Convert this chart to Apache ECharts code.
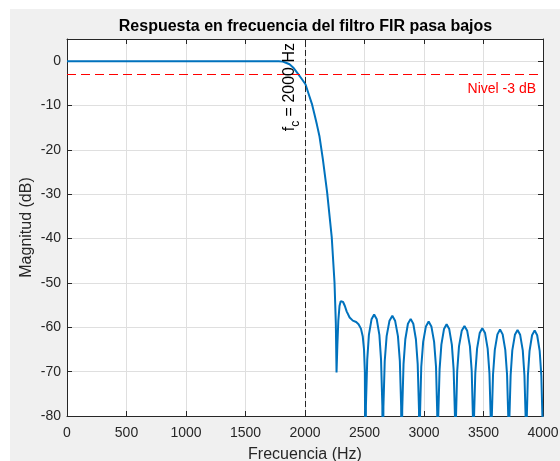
<!DOCTYPE html>
<html><head><meta charset="utf-8">
<script src="https://cdn.jsdelivr.net/npm/echarts@6/dist/echarts.min.js"></script>
<style>
html,body{margin:0;padding:0;background:#fff;}
#wrap{position:relative;width:560px;height:461px;overflow:hidden;}
#bg{position:absolute;left:10px;top:9px;right:0;bottom:0;background:#f0f0f0;}
#chart{position:absolute;left:0;top:0;width:560px;height:461px;}
</style></head><body>
<div id="wrap"><div id="bg"></div><div id="chart"></div></div>
<script>
const titleText = 'Respuesta en frecuencia del filtro FIR pasa bajos';
const xName = 'Frecuencia (Hz)';
const yName = 'Magnitud (dB)';
const xTicks = [0, 500, 1000, 1500, 2000, 2500, 3000, 3500, 4000];
const yTicks = [-80, -70, -60, -50, -40, -30, -20, -10, 0];
const yTop = 5;
const cutoffHz = 2000;
const cutoffLabel = ['f', 'c', ' = 2000 Hz'];
const levelDb = -3;
const levelLabel = 'Nivel -3 dB';

const freqHz = [
  0, 500, 1000, 1500, 1700, 1780, 1813, 1840, 1870, 1900, 1940, 1970, 2004, 2032, 2060, 2080, 2100, 2122, 2150, 2186, 2225, 2248, 2259, 2265,
  2272, 2280, 2290, 2300, 2309, 2320, 2335, 2350, 2375, 2402, 2430, 2450, 2470, 2485, 2496, 2503, 2508,
  2512, 2523, 2537, 2559, 2581, 2603, 2625, 2639, 2650, 2654,
  2659, 2670, 2686, 2710, 2734, 2757, 2781, 2797, 2808, 2813,
  2817, 2828, 2843, 2865, 2888, 2910, 2932, 2947, 2958, 2962,
  2967, 2977, 2993, 3016, 3039, 3062, 3085, 3101, 3111, 3116,
  3120, 3131, 3146, 3168, 3190, 3212, 3234, 3249, 3260, 3264,
  3269, 3279, 3294, 3317, 3340, 3363, 3386, 3401, 3411, 3416,
  3420, 3431, 3446, 3468, 3490, 3513, 3535, 3550, 3561, 3565,
  3569, 3580, 3595, 3617, 3639, 3661, 3683, 3698, 3709, 3713,
  3717, 3728, 3742, 3764, 3786, 3808, 3830, 3844, 3855, 3859,
  3863, 3873, 3887, 3908, 3930, 3951, 3972, 3986, 3996, 4000
];
const magDb = [
  0, 0, 0, 0, 0, 0, -0.1, -0.35, -0.7, -1.4, -2.8, -3.9, -5.2, -7.5, -9.8, -12, -14.3, -17, -22.1, -29.6, -39.8, -49.9, -59, -70.2,
  -64, -58.5, -55.2, -54.1, -53.9, -54.3, -55.2, -56.4, -57.8, -58.5, -58.8, -59.3, -60.3, -62, -65, -70, -100,
  -77.6, -67.3, -61.7, -58.2, -57.1, -58.2, -61.7, -67.3, -77.6, -100,
  -77.9, -67.6, -62.0, -58.5, -57.4, -58.5, -62.0, -67.6, -77.9, -100,
  -78.6, -68.3, -62.7, -59.2, -58.1, -59.2, -62.7, -68.3, -78.6, -100,
  -79.2, -68.9, -63.3, -59.8, -58.7, -59.8, -63.3, -68.9, -79.2, -100,
  -79.8, -69.5, -63.9, -60.4, -59.3, -60.4, -63.9, -69.5, -79.8, -100,
  -80.2, -69.9, -64.3, -60.8, -59.7, -60.8, -64.3, -69.9, -80.2, -100,
  -80.7, -70.4, -64.8, -61.3, -60.2, -61.3, -64.8, -70.4, -80.7, -100,
  -81.0, -70.7, -65.1, -61.6, -60.5, -61.6, -65.1, -70.7, -81.0, -100,
  -81.1, -70.8, -65.2, -61.7, -60.6, -61.7, -65.2, -70.8, -81.1, -100,
  -81.2, -70.9, -65.3, -61.8, -60.7, -61.8, -65.3, -70.9, -81.2, -100
];

const FONT = '"Liberation Sans", Arial, Helvetica, sans-serif';
const axisColor = '#262626';
const gridColor = '#dfdfdf';
const seriesData = freqHz.map((f, i) => [f, magDb[i]]);
const xMin = xTicks[0], xMax = xTicks[xTicks.length - 1], xStep = xTicks[1] - xTicks[0];
const yMin = yTicks[0], yStep = yTicks[1] - yTicks[0];

function boxAxis(pos, isX) {
  return {
    type: 'value', position: pos,
    min: isX ? xMin : yMin, max: isX ? xMax : yTop, interval: isX ? xStep : yStep,
    axisLine: { show: true, onZero: false, lineStyle: { color: axisColor, width: 1 } },
    axisTick: { show: true, inside: true, length: 5, lineStyle: { color: axisColor } },
    axisLabel: { show: false },
    splitLine: { show: false }
  };
}

const chart = echarts.init(document.getElementById('chart'), null, { renderer: 'canvas' });
chart.setOption({
  animation: false,
  backgroundColor: 'transparent',
  title: {
    text: titleText, left: 305.5, top: 19, padding: 0, textAlign: 'center',
    textStyle: { fontFamily: FONT, fontSize: 16, fontWeight: 'bold', color: '#000' }
  },
  grid: {
    left: 67, right: 17, top: 39, bottom: 45, show: true, backgroundColor: '#fff', borderWidth: 0,
    containLabel: false, outerBoundsMode: 'none'
  },
  xAxis: [
    {
      type: 'value', position: 'bottom', min: xMin, max: xMax, interval: xStep,
      name: xName, nameLocation: 'middle', nameGap: 31, nameMoveOverlap: false,
      nameTextStyle: { fontFamily: FONT, fontSize: 16, color: axisColor },
      axisLine: { show: true, onZero: false, lineStyle: { color: axisColor, width: 1 } },
      axisTick: { show: true, inside: true, length: 5, lineStyle: { color: axisColor } },
      axisLabel: {
        fontFamily: FONT, fontSize: 14, color: axisColor, margin: 10,
        formatter: v => String(v)
      },
      splitLine: { show: true, lineStyle: { color: gridColor, width: 1 } }
    },
    boxAxis('top', true)
  ],
  yAxis: [
    {
      type: 'value', position: 'left', min: yMin, max: yTop, interval: yStep,
      name: yName, nameLocation: 'middle', nameGap: 32, nameMoveOverlap: false,
      nameTextStyle: { fontFamily: FONT, fontSize: 16, color: axisColor },
      axisLine: { show: true, onZero: false, lineStyle: { color: axisColor, width: 1 } },
      axisTick: { show: true, inside: true, length: 5, lineStyle: { color: axisColor } },
      axisLabel: {
        fontFamily: FONT, fontSize: 14, color: axisColor, margin: 6,
        formatter: v => (yTicks.indexOf(v) >= 0 ? String(v) : '')
      },
      splitLine: { show: true, lineStyle: { color: gridColor, width: 1 } }
    },
    boxAxis('right', false)
  ],
  series: [{
    type: 'line', data: seriesData, xAxisIndex: 0, yAxisIndex: 0,
    showSymbol: false, symbol: 'none', clip: true, silent: true,
    lineStyle: { color: '#0072BD', width: 2 },
    emphasis: { disabled: true },
    markLine: {
      symbol: 'none', silent: true, animation: false,
      data: [
        {
          xAxis: cutoffHz,
          lineStyle: { color: '#262626', type: [6, 3], width: 1 },
          label: {
            show: true, position: 'insideEndTop', distance: [4, 3],
            formatter: '{a|' + cutoffLabel[0] + '}{b|' + cutoffLabel[1] + '}{a|' + cutoffLabel[2] + '}',
            rich: {
              a: { fontFamily: FONT, fontSize: 16, color: '#000', lineHeight: 24, verticalAlign: 'middle' },
              b: { fontFamily: FONT, fontSize: 12, color: '#000', lineHeight: 10, verticalAlign: 'bottom' }
            }
          }
        },
        {
          yAxis: levelDb,
          lineStyle: { color: '#ff0000', type: [9, 5], width: 1 },
          label: {
            show: true, position: 'insideEndBottom', distance: [7, 8],
            formatter: levelLabel, fontFamily: FONT, fontSize: 14, color: '#ff0000'
          }
        }
      ]
    }
  }]
});
</script>
</body></html>
